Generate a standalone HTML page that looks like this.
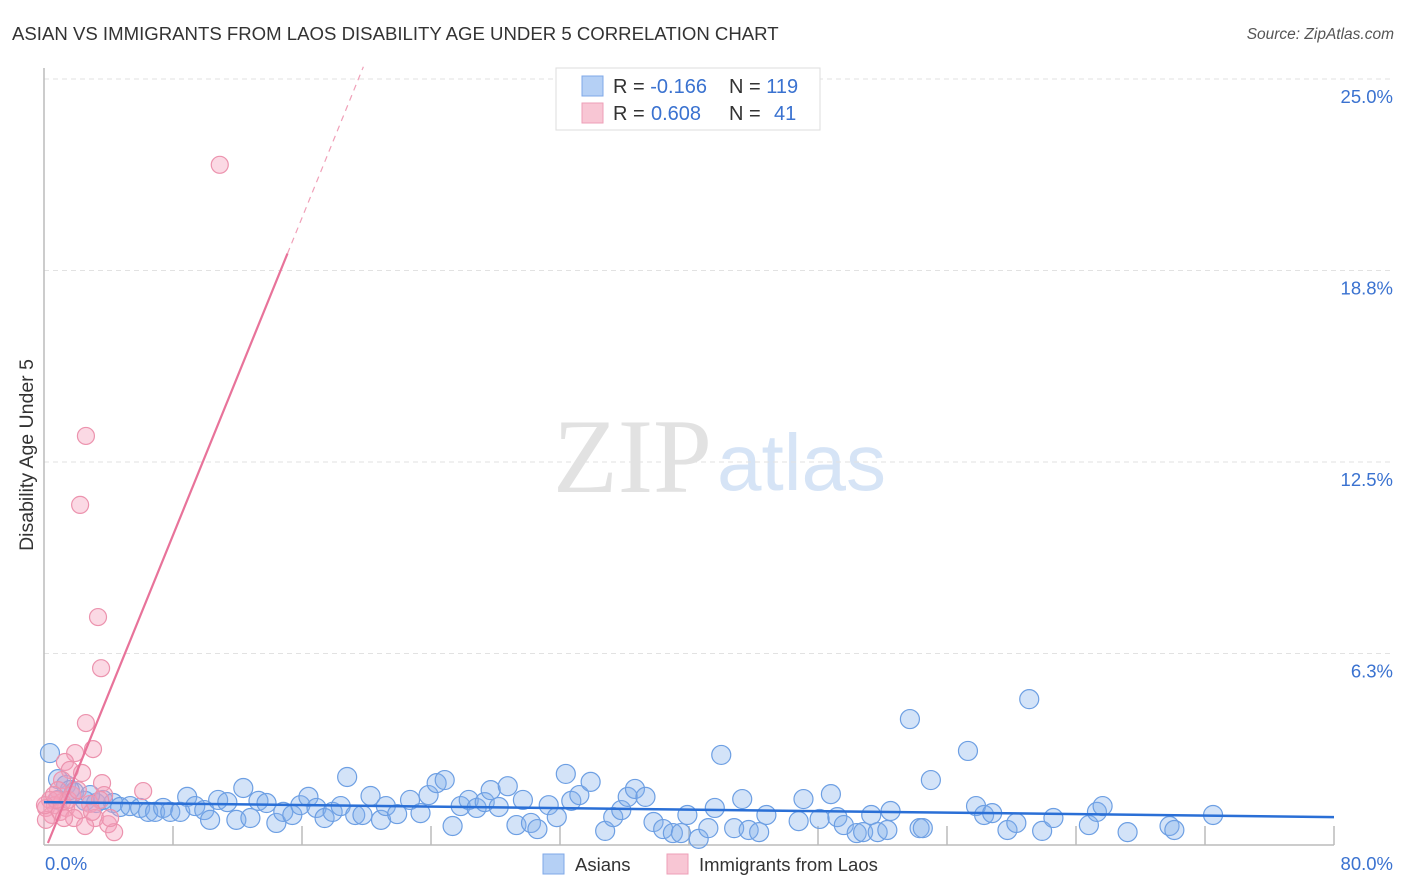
<!DOCTYPE html>
<html><head><meta charset="utf-8"><style>
body{margin:0;background:#fff;font-family:"Liberation Sans",sans-serif}
svg{display:block}
</style></head><body>
<svg width="1406" height="892">
<text x="12" y="40" font-size="18.6" fill="#333">ASIAN VS IMMIGRANTS FROM LAOS DISABILITY AGE UNDER 5 CORRELATION CHART</text>
<text x="1394" y="39" font-size="15.5" fill="#555" font-style="italic" text-anchor="end">Source: ZipAtlas.com</text>
<g>
<text x="553" y="492" font-family="Liberation Serif,serif" font-size="106" fill="#e2e2e2">ZIP</text>
<text x="717" y="490" font-size="80" fill="#d6e4f6">atlas</text>
</g>
<g id="grid"></g>
<g id="axes"></g>
<text transform="translate(33,455) rotate(-90)" font-size="19.5" fill="#333" text-anchor="middle">Disability Age Under 5</text>
<g id="pts"></g>
<g id="lines"></g>
<g>
<rect x="556" y="68" width="264" height="62" fill="#fff" stroke="#ddd"/>
<rect x="582" y="76" width="21" height="20" fill="#b5d0f5" stroke="#7fa8e8"/>
<rect x="582" y="103" width="21" height="20" fill="#f8c6d4" stroke="#ee9fb7"/>
<text x="613" y="93" font-size="20" fill="#333">R = <tspan fill="#3a72d0">-0.166</tspan><tspan x="729">N = </tspan><tspan fill="#3a72d0">119</tspan></text>
<text x="613" y="120" font-size="20" fill="#333">R = <tspan fill="#3a72d0" x="651">0.608</tspan><tspan x="729">N = </tspan><tspan fill="#3a72d0" x="774">41</tspan></text>
</g>
<g>
<rect x="543" y="854" width="21" height="20" fill="#b5d0f5" stroke="#7fa8e8"/>
<text x="575" y="871" font-size="18.5" fill="#333">Asians</text>
<rect x="667" y="854" width="21" height="20" fill="#f8c6d4" stroke="#ee9fb7"/>
<text x="699" y="871" font-size="18.5" fill="#333">Immigrants from Laos</text>
</g>
</svg>
<script>
const yTicks=[6.25,12.5,18.75,25];
const yTickLabels=["6.3%","12.5%","18.8%","25.0%"];
const xTickLabels=["0.0%","80.0%"];
const blueX=[0.37,0.87,1.37,1.86,2.55,3.23,3.66,4.29,4.72,5.34,5.96,6.46,6.89,7.39,7.83,8.45,8.88,9.38,9.94,10.3,10.8,11.37,11.93,12.36,12.8,13.3,13.8,14.41,14.84,15.4,15.9,16.4,16.9,17.4,17.9,18.4,18.8,19.3,19.75,20.25,20.9,21.2,21.9,22.7,23.35,23.85,24.35,24.85,25.34,25.84,26.34,26.83,27.33,27.7,28.2,28.76,29.3,29.7,30.2,30.6,31.3,31.8,32.36,32.7,33.2,33.9,34.8,35.3,35.8,36.2,36.65,37.3,37.8,38.4,39.0,39.5,39.9,40.6,41.2,41.6,42.0,42.8,43.3,43.7,44.35,44.8,46.8,47.1,48.1,48.8,49.2,49.6,50.4,50.8,51.3,51.7,52.3,52.5,53.7,54.3,54.5,55.0,57.3,57.8,58.3,58.8,59.75,60.3,61.1,61.9,62.6,64.8,65.3,65.65,67.2,69.8,70.1,72.5,0.87,1.6,2.86];
const blueY=[3.0,2.15,1.96,1.73,1.44,1.37,1.47,1.37,1.24,1.27,1.21,1.08,1.08,1.21,1.08,1.08,1.57,1.27,1.14,0.82,1.47,1.4,0.82,1.86,0.88,1.44,1.37,0.72,1.08,0.98,1.3,1.57,1.21,0.88,1.08,1.27,2.22,0.98,0.98,1.6,0.82,1.27,1.01,1.47,1.04,1.63,2.02,2.12,0.62,1.27,1.47,1.21,1.4,1.79,1.24,1.92,0.65,1.47,0.72,0.52,1.3,0.91,2.32,1.44,1.63,2.06,0.46,0.91,1.14,1.57,1.83,1.57,0.75,0.52,0.39,0.39,0.98,0.2,0.55,1.21,2.94,0.55,1.5,0.49,0.42,0.98,0.78,1.5,0.85,1.66,0.91,0.65,0.39,0.42,0.98,0.42,0.49,1.11,4.11,0.55,0.55,2.12,3.07,1.27,0.98,1.04,0.49,0.72,4.76,0.46,0.88,0.65,1.08,1.27,0.42,0.62,0.49,0.98,1.47,1.79,1.63];
const pinkX=[10.9,2.6,2.24,3.35,3.54,2.6,3.04,1.93,1.3,1.6,2.36,1.12,3.6,6.15,0.87,3.73,1.74,0.37,0.68,1.12,0.12,1.37,2.86,2.24,0.5,1.0,1.86,3.17,2.55,3.98,4.35,0.12,0.75,0.06,1.5,3.48,2.1,4.1,1.24,2.98,0.62];
const pinkY=[22.2,13.35,11.1,7.44,5.77,3.98,3.13,3.0,2.71,2.45,2.35,2.12,2.02,1.76,1.79,1.63,1.63,1.47,1.3,1.4,1.21,1.21,1.34,1.14,0.98,1.08,0.88,0.88,0.62,0.68,0.42,0.82,1.47,1.3,1.47,1.47,1.79,0.88,0.88,1.08,1.63];
const blueTrend=[1.4,0.91];
const pinkTrend=[-0.25,1.295];
const X0=44,X1=1334,Y0=845,YT=79;
const sx=v=>X0+v*(X1-X0)/80, sy=v=>Y0-v*(Y0-YT)/25;
const NS="http://www.w3.org/2000/svg";
function mk(t,a,p){const e=document.createElementNS(NS,t);for(const k in a)e.setAttribute(k,a[k]);p.appendChild(e);return e;}
const grid=document.getElementById('grid'),axes=document.getElementById('axes'),pts=document.getElementById('pts'),lines=document.getElementById('lines');
yTicks.forEach((t,i)=>{
 const l=mk('line',{x1:X0,x2:1394,y1:sy(t),y2:sy(t),stroke:'#e2e2e2','stroke-dasharray':'5,4'},grid);
 
 
 const tx=mk('text',{x:1393,y:sy(t)+24,'font-size':18.5,fill:'#3a72d0','text-anchor':'end'},axes);
 tx.textContent=yTickLabels[i];
 
 
});
mk('line',{x1:X0,x2:X0,y1:68,y2:Y0,stroke:'#bbb','stroke-width':1.5},axes);
mk('line',{x1:X0,x2:X1,y1:Y0,y2:Y0,stroke:'#bbb','stroke-width':1.5},axes);
for(let i=1;i<=10;i++){const x=sx(i*8);mk('line',{x1:x,x2:x,y1:Y0,y2:Y0-19,stroke:'#bbb','stroke-width':1.5},axes);}
const xl0=mk('text',{x:45,y:870,'font-size':18.5,fill:'#3a72d0'},axes);xl0.textContent=xTickLabels[0];


const xl1=mk('text',{x:1393,y:870,'font-size':18.5,fill:'#3a72d0','text-anchor':'end'},axes);xl1.textContent=xTickLabels[1];


blueX.forEach((v,i)=>{const c=mk('circle',{cx:sx(v),cy:sy(blueY[i]),r:9.5,fill:'rgba(130,175,235,0.35)',stroke:'#6d9fe3','stroke-width':1.2},pts);
 
 });
pinkX.forEach((v,i)=>{const c=mk('circle',{cx:sx(v),cy:sy(pinkY[i]),r:8.5,fill:'rgba(245,160,188,0.4)',stroke:'#ec93ae','stroke-width':1.2},pts);
 
 });
const bl=mk('line',{x1:sx(0),y1:sy(blueTrend[0]),x2:sx(80),y2:sy(blueTrend[1]),stroke:'#2a6fd6','stroke-width':2.5},lines);


const pv=x=>pinkTrend[0]+pinkTrend[1]*x;
const xs=(0-pinkTrend[0])/pinkTrend[1]+0.05, xm=15.1, xe=(25.4-pinkTrend[0])/pinkTrend[1];
const pl=mk('line',{x1:sx(xs),y1:sy(pv(xs)),x2:sx(xm),y2:sy(pv(xm)),stroke:'#e8739a','stroke-width':2.2},lines);


const pd=mk('line',{x1:sx(xm),y1:sy(pv(xm)),x2:sx(xe),y2:sy(pv(xe)),stroke:'#f0a0b8','stroke-width':1.2,'stroke-dasharray':'6,5'},lines);


</script>
</body></html>
